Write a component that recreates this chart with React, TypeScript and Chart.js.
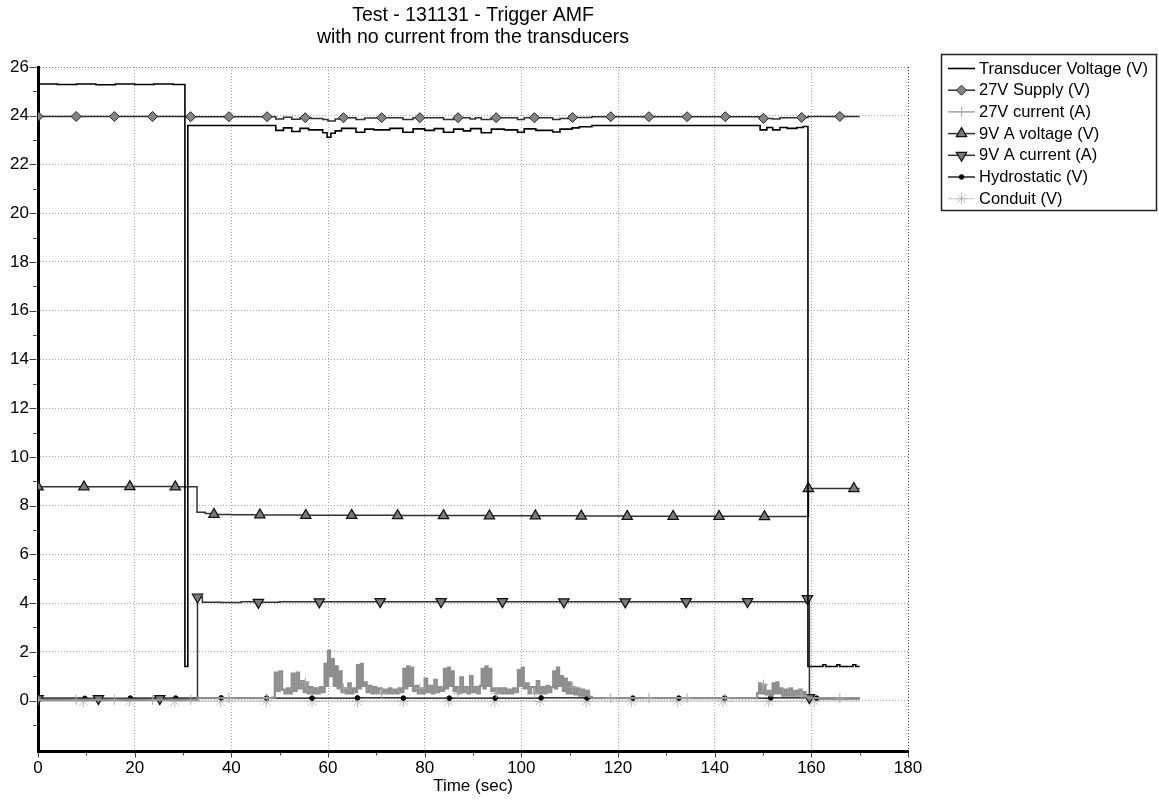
import React, { useEffect, useRef } from 'react';
import { Chart, registerables } from 'chart.js';
import { drawPoint } from 'chart.js/helpers';

Chart.register(...registerables);

// ---------- text ----------
const titleLines = ['Test - 131131 - Trigger AMF', 'with no current from the transducers'];
const xAxisTitle = 'Time (sec)';
const seriesNames = [
  'Transducer Voltage (V)',
  '27V Supply (V)',
  '27V current (A)',
  '9V A voltage (V)',
  '9V A current (A)',
  'Hydrostatic (V)',
  'Conduit (V)',
];

// ---------- ticks ----------
const xMajorTicks = [0, 20, 40, 60, 80, 100, 120, 140, 160, 180];
const xMinorTicks = [10, 30, 50, 70, 90, 110, 130, 150, 170];
const yMajorTicks = [0, 2, 4, 6, 8, 10, 12, 14, 16, 18, 20, 22, 24, 26];
const yMinorTicks = [-1, 1, 3, 5, 7, 9, 11, 13, 15, 17, 19, 21, 23, 25];
const xRange = [0, 180];
const yRange = [-2.07, 26];

// ---------- data: [time (s), value] ----------
const transducerVoltage: [number, number][] = [
  [0, 25.3], [4, 25.28], [8, 25.3], [12, 25.27], [16, 25.3], [20, 25.28], [24, 25.3], [28, 25.28],
  [30.4, 1.4], [31.0, 23.6], [49.2, 23.4], [50.8, 23.5], [52.5, 23.35], [54.2, 23.48], [56.0, 23.42],
  [58.9, 23.3], [59.8, 23.12], [60.6, 23.28], [61.5, 23.38], [62.8, 23.48], [65.8, 23.32], [67.6, 23.45],
  [69.5, 23.42], [72.8, 23.48], [75.5, 23.32], [77.6, 23.46], [80.0, 23.4], [82.0, 23.47], [83.9, 23.32],
  [86.0, 23.45], [88.0, 23.38], [89.5, 23.47], [91.7, 23.3], [93.8, 23.45], [96.5, 23.42], [99.2, 23.32],
  [100.6, 23.46], [103.0, 23.4], [106.5, 23.33], [108.0, 23.45], [110.5, 23.5], [112.0, 23.55], [114.6, 23.6],
  [149.4, 23.42], [150.8, 23.52], [152.0, 23.42], [153.5, 23.52], [155.0, 23.48], [157.0, 23.52], [158.3, 23.56],
  [159.3, 1.4], [162.4, 1.47], [163.0, 1.4], [165.3, 1.47], [165.9, 1.4], [168.6, 1.47], [169.2, 1.4], [170, 1.4],
];

const supply27V: [number, number][] = [
  [0, 23.97], [7.9, 23.97], [15.8, 23.97], [23.7, 23.97], [31.6, 23.96], [39.5, 23.96], [47.4, 23.96],
  [49.2, 23.87], [50.8, 23.94], [52.5, 23.86], [54.2, 23.92], [55.3, 23.92], [56.5, 23.89], [58.9, 23.85],
  [60.0, 23.78], [61.5, 23.87], [63.2, 23.92], [65.8, 23.85], [67.6, 23.91], [71.1, 23.92], [75.5, 23.85],
  [77.6, 23.92], [79.0, 23.92], [83.9, 23.85], [86.0, 23.92], [86.9, 23.92], [89.4, 23.87], [90.5, 23.92],
  [91.7, 23.85], [93.8, 23.92], [94.8, 23.92], [99.2, 23.85], [100.6, 23.92], [102.7, 23.92], [106.5, 23.85],
  [108.0, 23.89], [110.6, 23.93], [114.6, 23.96], [118.5, 23.96], [126.4, 23.96], [134.3, 23.96], [142.2, 23.96],
  [149.4, 23.89], [150.1, 23.89], [152.0, 23.87], [153.5, 23.92], [158.0, 23.93], [159.3, 23.97], [165.9, 23.97],
  [170, 23.97],
];
const supply27VMarkers = [0, 7.9, 15.8, 23.7, 31.6, 39.5, 47.4, 55.3, 63.2, 71.1, 79.0, 86.9, 94.8, 102.7,
  110.6, 118.5, 126.4, 134.3, 142.2, 150.1, 158.0, 165.9];

const current27V: [number, number][] = [
  [0, 0.03], [7.9, 0.03], [15.8, 0.03], [23.7, 0.03], [31.6, 0.03], [33.0, 0.1], [39.5, 0.1], [47.4, 0.1],
  [48.5, 0.12], [49.0, 1.15], [49.5, 0.4], [50.0, 1.2], [50.5, 0.45], [51.0, 0.3], [51.5, 0.5], [52.0, 0.3],
  [52.5, 1.1], [53.0, 0.4], [53.5, 1.15], [54.0, 0.5], [54.5, 0.8], [55.0, 0.35], [55.3, 0.75], [55.8, 0.3],
  [56.3, 0.55], [56.8, 0.3], [57.3, 0.5], [57.8, 0.3], [58.3, 0.55], [58.8, 0.35], [59.3, 1.5], [59.7, 0.6],
  [60.0, 2.05], [60.4, 1.0], [60.8, 1.7], [61.2, 0.6], [61.6, 1.4], [62.0, 0.5], [62.4, 1.2], [62.8, 0.35],
  [63.2, 0.5], [63.7, 0.3], [64.2, 0.7], [64.7, 0.3], [65.2, 0.5], [65.7, 0.35], [66.0, 1.45], [66.4, 0.5],
  [66.8, 1.5], [67.2, 0.6], [67.6, 0.75], [68.0, 0.35], [68.5, 0.6], [69.0, 0.3], [69.5, 0.55], [70.0, 0.3],
  [70.5, 0.5], [71.1, 0.3], [71.6, 0.45], [72.1, 0.3], [72.6, 0.5], [73.1, 0.3], [73.6, 0.45], [74.1, 0.3],
  [74.6, 0.5], [75.1, 0.35], [75.6, 1.3], [76.0, 0.5], [76.4, 1.4], [76.8, 0.6], [77.2, 1.35], [77.6, 0.4],
  [78.1, 0.6], [78.6, 0.3], [79.0, 0.5], [79.5, 0.3], [80.0, 0.9], [80.5, 0.35], [81.0, 0.6], [81.5, 0.3],
  [82.0, 0.85], [82.5, 0.35], [83.0, 0.55], [83.5, 0.4], [84.0, 1.3], [84.4, 0.5], [84.8, 1.35], [85.2, 0.6],
  [85.6, 1.2], [86.0, 0.4], [86.5, 0.55], [86.9, 0.3], [87.4, 0.95], [87.9, 0.35], [88.4, 0.55], [88.9, 0.3],
  [89.4, 1.0], [89.9, 0.35], [90.4, 0.55], [90.9, 0.3], [91.4, 0.6], [91.8, 1.3], [92.2, 0.5], [92.6, 1.4],
  [93.0, 0.6], [93.4, 1.3], [93.8, 0.4], [94.3, 0.5], [94.8, 0.3], [95.3, 0.5], [95.8, 0.3], [96.3, 0.5],
  [96.8, 0.3], [97.3, 0.45], [97.8, 0.3], [98.3, 0.5], [98.8, 0.35], [99.3, 1.25], [99.7, 0.6], [100.1, 1.35],
  [100.5, 0.5], [101.0, 0.7], [101.5, 0.3], [102.0, 0.55], [102.7, 0.3], [103.2, 0.8], [103.7, 0.3], [104.2, 0.55],
  [104.7, 0.3], [105.2, 0.6], [105.7, 0.35], [106.2, 0.55], [106.6, 1.2], [107.0, 0.5], [107.4, 1.35], [107.8, 0.6],
  [108.2, 1.0], [108.6, 0.4], [109.0, 0.9], [109.4, 0.3], [109.8, 0.75], [110.2, 0.3], [110.6, 0.55], [111.0, 0.25],
  [111.5, 0.5], [112.0, 0.2], [112.5, 0.45], [113.0, 0.2], [113.5, 0.4], [114.0, 0.15], [114.6, 0.1],
  [118.5, 0.1], [126.4, 0.1], [134.3, 0.1], [142.2, 0.1],
  [148.8, 0.3], [149.2, 0.7], [149.6, 0.3], [150.1, 0.65], [150.5, 0.25], [151.0, 0.4], [151.5, 0.2], [152.0, 0.7],
  [152.4, 0.3], [152.8, 0.75], [153.2, 0.3], [153.6, 0.5], [154.0, 0.2], [154.5, 0.45], [155.0, 0.2], [155.5, 0.5],
  [156.0, 0.2], [156.5, 0.4], [157.0, 0.2], [157.5, 0.45], [158.0, 0.2], [158.4, 0.35], [158.8, 0.15], [159.3, 0.1],
  [165.9, 0.1], [170, 0.1],
];
const current27VMarkers = supply27VMarkers;

const voltage9VA: [number, number][] = [
  [0, 8.77], [9.5, 8.77], [19.0, 8.78], [28.4, 8.77], [32.9, 7.73], [34.6, 7.68], [36.4, 7.64], [40.0, 7.63],
  [45.9, 7.62], [50.0, 7.61], [55.4, 7.6], [64.9, 7.6], [74.4, 7.59], [83.9, 7.59], [93.4, 7.58], [102.9, 7.58],
  [112.4, 7.57], [121.9, 7.56], [131.4, 7.56], [140.9, 7.56], [150.3, 7.55], [159.4, 8.7], [168.8, 8.7], [170, 8.7],
];
const voltage9VAMarkers = [0, 9.5, 19.0, 28.4, 36.4, 45.9, 55.4, 64.9, 74.4, 83.9, 93.4, 102.9, 112.4, 121.9,
  131.4, 140.9, 150.3, 159.4, 168.8];

const current9VA: [number, number][] = [
  [0, 0.08], [12.5, 0.08], [25.2, 0.08], [33.0, 4.25], [34.0, 4.03], [38.0, 4.02], [42.0, 4.05], [45.6, 4.03],
  [50.0, 4.05], [58.2, 4.05], [63.0, 4.06], [70.8, 4.06], [76.0, 4.05], [83.4, 4.06], [96.1, 4.06], [108.8, 4.05],
  [121.5, 4.05], [134.1, 4.06], [146.8, 4.06], [159.2, 4.18], [159.6, 0.12], [160.6, 0.07], [170, 0.07],
];
const current9VAMarkers = [0, 12.5, 25.2, 33.0, 45.6, 58.2, 70.8, 83.4, 96.1, 108.8, 121.5, 134.1, 146.8, 159.2, 159.6];

const hydrostatic: [number, number][] = [
  [0, 0.1], [0.3, 0.1], [9.7, 0.09], [19.1, 0.1], [28.5, 0.1], [37.9, 0.11], [47.3, 0.1], [56.7, 0.1],
  [66.1, 0.11], [75.6, 0.1], [85.1, 0.1], [94.6, 0.1], [104.1, 0.11], [113.6, 0.1], [123.1, 0.1], [132.6, 0.1],
  [142.1, 0.1], [151.6, 0.11], [161.1, 0.1], [170, 0.1],
];
const hydrostaticMarkers = [0.3, 9.7, 19.1, 28.5, 37.9, 47.3, 56.7, 66.1, 75.6, 85.1, 94.6, 104.1, 113.6,
  123.1, 132.6, 142.1, 151.6, 161.1];

const conduit: [number, number][] = [
  [0, -0.03], [9.4, -0.03], [18.9, -0.02], [28.3, -0.03], [37.8, -0.03], [47.2, -0.02], [56.7, -0.03],
  [66.1, -0.03], [75.6, -0.02], [85.0, -0.03], [94.5, -0.03], [103.9, -0.02], [113.4, -0.03], [122.8, -0.03],
  [132.3, -0.02], [141.7, -0.03], [151.2, -0.03], [160.6, -0.02], [170, -0.03],
];
const conduitMarkers = [9.4, 18.9, 28.3, 37.8, 47.2, 56.7, 66.1, 75.6, 85.0, 94.5, 103.9, 113.4, 122.8,
  132.3, 141.7, 151.2, 160.6];

// ---------- styling ----------
const FONT = "'Liberation Sans', Arial, Helvetica, sans-serif";

const toPoints = (pairs: [number, number][]) => pairs.map(([x, y]) => ({ x, y }));
const markerRadius = (markers: number[], r: number) => {
  const set = new Set(markers);
  return (ctx: any) => (ctx.raw && set.has(ctx.raw.x) ? r : 0);
};

function buildDatasets() {
  const specs = [
    { pairs: transducerVoltage, markers: [] as number[], color: '#000000', width: 1.6, style: false as any, r: 0, fill: '#000', stroke: '#000', bw: 1, rot: 0, lw: 1.6 },
    { pairs: supply27V, markers: supply27VMarkers, color: '#303030', width: 1.5, style: 'rectRot', r: 5, fill: '#858585', stroke: '#222', bw: 1, rot: 0, lw: 1.5 },
    { pairs: current27V, markers: current27VMarkers, color: '#8e8e8e', width: 2.3, style: 'cross', r: 5, fill: '#aaa', stroke: '#a8a8a8', bw: 1, rot: 0, lw: 1.2 },
    { pairs: voltage9VA, markers: voltage9VAMarkers, color: '#333333', width: 1.5, style: 'triangle', r: 6, fill: '#7a7a7a', stroke: '#111', bw: 1.2, rot: 0, lw: 1.5 },
    { pairs: current9VA, markers: current9VAMarkers, color: '#333333', width: 1.5, style: 'triangle', r: 6, fill: '#7a7a7a', stroke: '#111', bw: 1.2, rot: 180, lw: 1.5 },
    { pairs: hydrostatic, markers: hydrostaticMarkers, color: '#000000', width: 1.3, style: 'circle', r: 2.3, fill: '#000', stroke: '#000', bw: 1, rot: 0, lw: 1.3 },
    { pairs: conduit, markers: conduitMarkers, color: '#cdcdcd', width: 1.2, style: 'star', r: 6, fill: '#c0c0c0', stroke: '#bdbdbd', bw: 1, rot: 0, lw: 1.2 },
  ];
  return specs.map((s, i) => ({
    label: seriesNames[i],
    data: toPoints(s.pairs),
    borderColor: s.color,
    borderWidth: s.width,
    stepped: true,
    fill: false,
    tension: 0,
    pointStyle: s.style || 'circle',
    pointRotation: s.rot,
    pointRadius: markerRadius(s.markers, s.r),
    pointHoverRadius: 0,
    pointBackgroundColor: s.fill,
    pointBorderColor: s.stroke,
    pointBorderWidth: s.bw,
    legendRadius: s.style ? s.r : 0,
    legendLineWidth: s.lw,
  }));
}

const legendPlugin = {
  id: 'boxLegend',
  afterDraw(chart: any) {
    const ctx = chart.ctx as CanvasRenderingContext2D;
    ctx.save();
    ctx.lineWidth = 1.5;
    ctx.strokeStyle = '#222';
    ctx.strokeRect(941.5, 54.5, 215, 156);
    chart.data.datasets.forEach((ds: any, i: number) => {
      const yy = 68.5 + i * 21.7;
      ctx.setLineDash([]);
      ctx.strokeStyle = ds.borderColor;
      ctx.lineWidth = ds.legendLineWidth;
      ctx.beginPath();
      ctx.moveTo(948, yy);
      ctx.lineTo(975, yy);
      ctx.stroke();
      if (ds.legendRadius > 0) {
        ctx.fillStyle = ds.pointBackgroundColor;
        ctx.strokeStyle = ds.pointBorderColor;
        ctx.lineWidth = ds.pointBorderWidth;
        drawPoint(ctx, {
          pointStyle: ds.pointStyle,
          rotation: ds.pointRotation || 0,
          radius: ds.legendRadius,
          borderWidth: ds.pointBorderWidth,
        } as any, 961.5, yy);
      }
      ctx.fillStyle = '#000';
      ctx.font = `16.5px ${FONT}`;
      ctx.textAlign = 'left';
      ctx.textBaseline = 'middle';
      ctx.fillText(ds.label, 979, yy + 0.5);
    });
    ctx.restore();
  },
};

const tickMarkPlugin = {
  id: 'tickMarks',
  afterDraw(chart: any) {
    const { ctx, chartArea, scales } = chart;
    const x = scales.x;
    const y = scales.y;
    ctx.save();
    ctx.strokeStyle = '#444';
    ctx.lineWidth = 1;
    const hLine = (v: number, len: number) => {
      const py = Math.round(y.getPixelForValue(v)) + 0.5;
      ctx.beginPath();
      ctx.moveTo(chartArea.left - 1.5 - len, py);
      ctx.lineTo(chartArea.left - 1.5, py);
      ctx.stroke();
    };
    const vLine = (v: number, len: number) => {
      const px = Math.round(x.getPixelForValue(v)) + 0.5;
      ctx.beginPath();
      ctx.moveTo(px, chartArea.bottom + 1.5);
      ctx.lineTo(px, chartArea.bottom + 1.5 + len);
      ctx.stroke();
    };
    yMajorTicks.forEach((v) => hLine(v, 7));
    yMinorTicks.forEach((v) => hLine(v, 3.5));
    xMajorTicks.forEach((v) => vLine(v, 5));
    xMinorTicks.forEach((v) => vLine(v, 3));
    ctx.restore();
  },
};

export default function App() {
  const ref = useRef<HTMLCanvasElement>(null);

  useEffect(() => {
    if (!ref.current) return;
    const gridColorX = (c: any) => (c.tick && c.tick.value === xRange[1] ? '#444' : '#a4a4a4');
    const gridColorY = (c: any) => (c.tick && c.tick.value === yRange[1] ? '#777' : '#a4a4a4');
    const chart = new Chart(ref.current, {
      type: 'line',
      data: { datasets: buildDatasets() as any },
      options: {
        responsive: false,
        animation: false,
        devicePixelRatio: 1,
        events: [],
        layout: { padding: { left: 0, right: 251, top: 0, bottom: 0 } },
        plugins: {
          legend: { display: false },
          tooltip: { enabled: false },
          title: {
            display: true,
            text: titleLines,
            fullSize: false,
            color: '#000',
            font: { family: FONT, size: 19.5, weight: 'normal', lineHeight: '22px' } as any,
            padding: { top: 5, bottom: 18 },
          },
        },
        scales: {
          x: {
            type: 'linear',
            min: xRange[0],
            max: xRange[1],
            afterFit: (s: any) => { s.height = 51; },
            afterBuildTicks: (s: any) => { s.ticks = xMajorTicks.map((v) => ({ value: v })); },
            ticks: { padding: 7, color: '#000', font: { family: FONT, size: 17 }, maxRotation: 0, autoSkip: false },
            grid: { color: gridColorX, lineWidth: 1, drawTicks: false },
            border: { display: true, color: '#000', width: 3, dash: [1, 2] },
            title: {
              display: true,
              text: xAxisTitle,
              color: '#000',
              font: { family: FONT, size: 17 },
              padding: { top: 0, bottom: 5 },
            },
          },
          y: {
            type: 'linear',
            min: yRange[0],
            max: yRange[1],
            afterFit: (s: any) => { s.width = 38; },
            afterBuildTicks: (s: any) => { s.ticks = yMajorTicks.map((v) => ({ value: v })); },
            ticks: { padding: 9, color: '#000', font: { family: FONT, size: 17 }, autoSkip: false },
            grid: { color: gridColorY, lineWidth: 1, drawTicks: false },
            border: { display: true, color: '#000', width: 3, dash: [1, 2] },
          },
        },
      } as any,
      plugins: [tickMarkPlugin, legendPlugin],
    });
    return () => chart.destroy();
  }, []);

  return (
    <div style={{ position: 'absolute', left: 0, top: 0, width: 1159, height: 802, background: '#fff' }}>
      <canvas ref={ref} width={1159} height={802} style={{ display: 'block', width: 1159, height: 802 }} />
    </div>
  );
}
